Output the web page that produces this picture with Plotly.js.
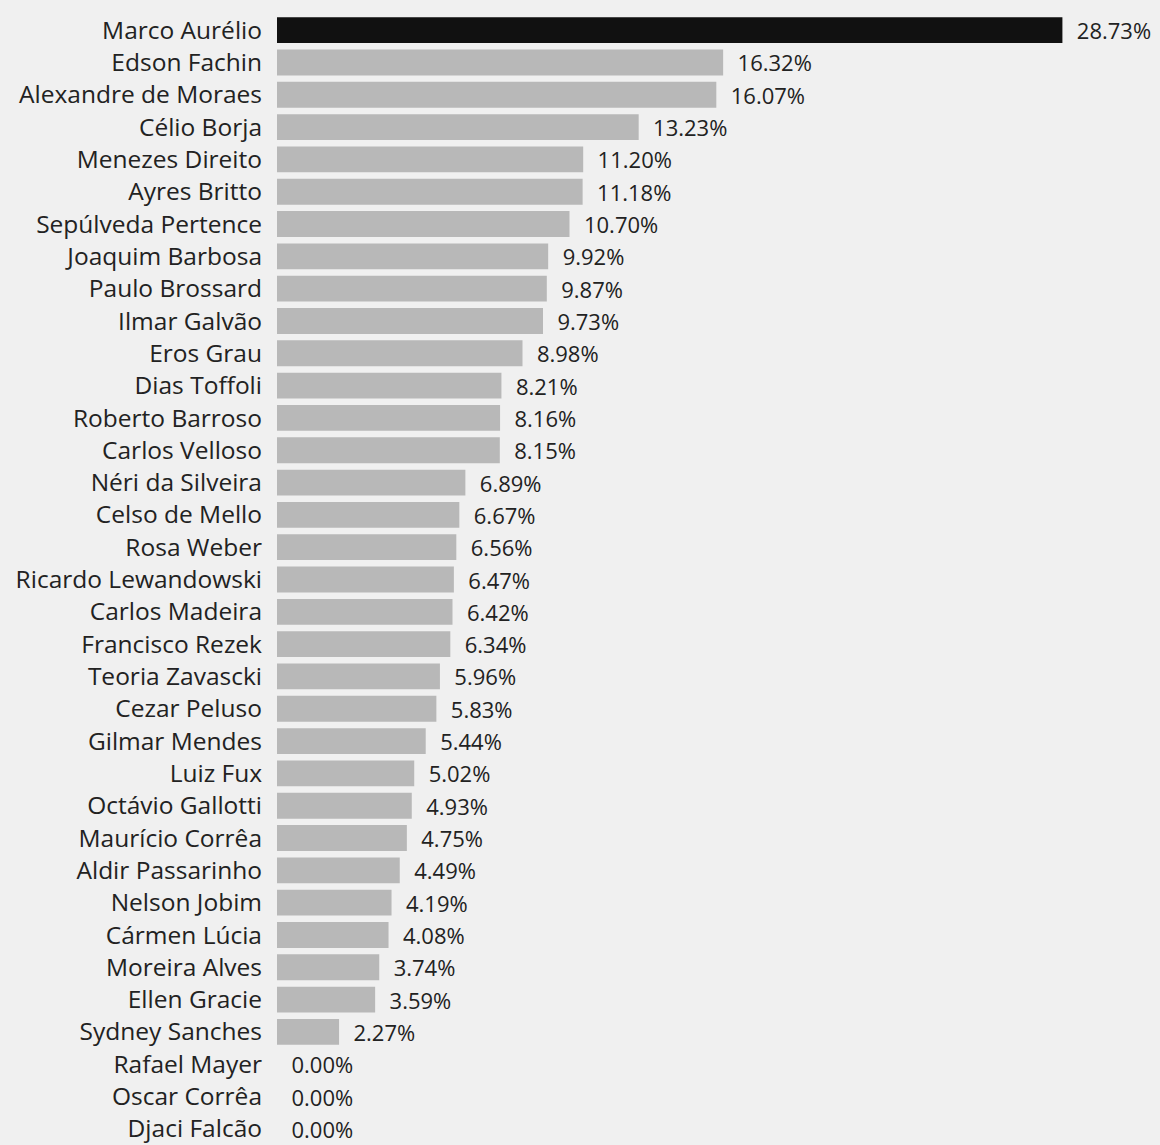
<!DOCTYPE html>
<html>
<head>
<meta charset="utf-8">
<script src="https://cdn.plot.ly/plotly-3.0.1.min.js"></script>
<style>html,body{margin:0;padding:0;background:#f0f0f0;}</style>
</head>
<body>
<div id="chart" style="width:1160px;height:1145px;"></div>
<script>
const names = ["Marco Aurélio","Edson Fachin","Alexandre de Moraes","Célio Borja","Menezes Direito","Ayres Britto","Sepúlveda Pertence","Joaquim Barbosa","Paulo Brossard","Ilmar Galvão","Eros Grau","Dias Toffoli","Roberto Barroso","Carlos Velloso","Néri da Silveira","Celso de Mello","Rosa Weber","Ricardo Lewandowski","Carlos Madeira","Francisco Rezek","Teoria Zavascki","Cezar Peluso","Gilmar Mendes","Luiz Fux","Octávio Gallotti","Maurício Corrêa","Aldir Passarinho","Nelson Jobim","Cármen Lúcia","Moreira Alves","Ellen Gracie","Sydney Sanches","Rafael Mayer","Oscar Corrêa","Djaci Falcão"];
const values = [28.73,16.32,16.07,13.23,11.20,11.18,10.70,9.92,9.87,9.73,8.98,8.21,8.16,8.15,6.89,6.67,6.56,6.47,6.42,6.34,5.96,5.83,5.44,5.02,4.93,4.75,4.49,4.19,4.08,3.74,3.59,2.27,0.00,0.00,0.00];

const colors = values.map((v,i)=> i===0 ? '#111111' : '#b8b8b8');
const labels = values.map(v => '\u00a0\u00a0' + v.toFixed(2) + '%');

Plotly.newPlot('chart', [{
  type: 'bar',
  orientation: 'h',
  x: values,
  y: names,
  marker: {color: colors, line: {width: 0}},
  text: labels,
  textposition: 'outside',
  constraintext: 'none',
  cliponaxis: false,
  textfont: {family: '"Open Sans", sans-serif', size: 22, color: '#222'},
  hoverinfo: 'none'
}], {
  width: 1160, height: 1145,
  margin: {l: 277, r: 0, t: 14, b: 0, pad: 0},
  paper_bgcolor: '#f0f0f0',
  plot_bgcolor: '#f0f0f0',
  bargap: 0.2,
  showlegend: false,
  font: {family: '"Open Sans", sans-serif', color: '#222'},
  xaxis: {range: [0, 32.3], showgrid: false, zeroline: false, showticklabels: false, showline: false, ticks: ''},
  yaxis: {autorange: 'reversed', showgrid: false, zeroline: false, showline: false, ticks: '',
          ticklabelstandoff: 14, tickfont: {family: '"Open Sans", sans-serif', size: 24.5, color: '#222'}}
}, {displayModeBar: false, staticPlot: true});
</script>
</body>
</html>
